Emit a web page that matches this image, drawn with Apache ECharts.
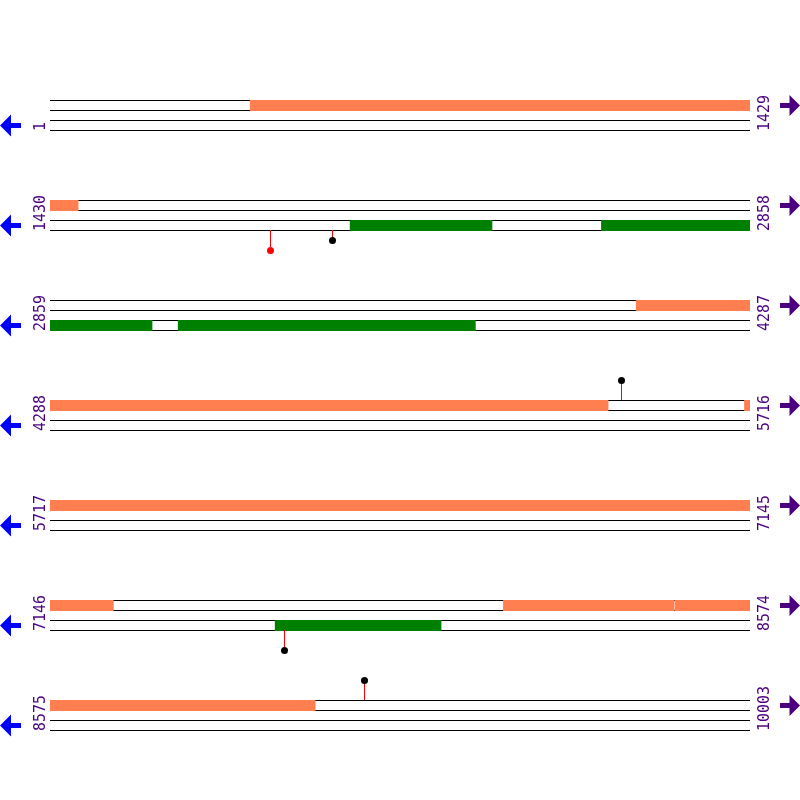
<!DOCTYPE html>
<html><head><meta charset="utf-8">
<script src="https://cdn.jsdelivr.net/npm/echarts@6/dist/echarts.min.js"></script>
<style>html,body{margin:0;padding:0;background:#fff}#c{width:800px;height:800px}</style>
</head><body><div id="c"></div>
<script>
// ---- data ----
const rowLength = 1429;
const rowStarts = [1, 1430, 2859, 4288, 5717, 7146, 8575];
const rowEnds = [1429, 2858, 4287, 5716, 7145, 8574, 10003];
// features on track 1 (orange) and track 2 (green), genome coordinates
const forwardFeatures = [[409, 1487], [4055, 5427], [5705, 7275], [8071, 8420], [8422, 9116]];
const reverseFeatures = [[2042, 2332], [2555, 3067], [3120, 3727], [7605, 7944]];
// lollipop markers
const markerPositions = [1879, 2006, 5454, 7624, 9216];
const markerSides = ['below', 'below', 'above', 'below', 'above'];
const markerLevels = [2, 1, 2, 2, 2];
const markerColors = ['#ff0000', '#000000', '#000000', '#000000', '#000000'];

// ---- build series data ----
function splitFeatures(list, track) {
  const out = [];
  list.forEach(([s, e]) => {
    rowStarts.forEach((rs, r) => {
      const a = Math.max(s, rs), b = Math.min(e, rowEnds[r]);
      if (a <= b) out.push([a - rs, b - rs + 1, r, track]);
    });
  });
  return out;
}
const segData = splitFeatures(forwardFeatures, 0).concat(splitFeatures(reverseFeatures, 1));
const rowData = rowStarts.map((s, i) => [i, s, rowEnds[i]]);
const markerData = markerPositions.map((p, i) => {
  let r = 0;
  rowStarts.forEach((rs, k) => { if (p >= rs) r = k; });
  return [p - rowStarts[r], r, markerSides[i] === 'above' ? -1 : 1, markerLevels[i], i];
});

const lineY = (r, k) => 10 + 10 * r + k; // y units (1 unit = 10px)

const chart = echarts.init(document.getElementById('c'), null, {renderer: 'canvas'});
chart.setOption({
  animation: false,
  backgroundColor: '#ffffff',
  grid: {left: 50, right: 50, top: 0, bottom: 0},
  xAxis: {type: 'value', min: 0, max: rowLength, show: false},
  yAxis: {type: 'value', min: 0, max: 80, inverse: true, show: false},
  series: [
    {
      type: 'custom', data: rowData, z: 1, clip: false,
      renderItem: (params, api) => {
        const r = api.value(0);
        const children = [];
        for (let k = 0; k < 4; k++) {
          const p0 = api.coord([0, lineY(r, k)]);
          const p1 = api.coord([rowLength, lineY(r, k)]);
          const y = Math.round(p0[1]) + 0.5;
          children.push({type: 'line', shape: {x1: p0[0], y1: y, x2: p1[0], y2: y}, style: {stroke: '#000', lineWidth: 1}});
        }
        const b = api.coord([0, lineY(r, 3)]);
        const e = api.coord([rowLength, lineY(r, 3)]);
        const t1 = api.coord([0, lineY(r, 0)]);
        const t2 = api.coord([0, lineY(r, 2)]);
        const yc1 = (t1[1] + api.coord([0, lineY(r, 1)])[1]) / 2 + 0.5;
        const yc2 = (t2[1] + b[1]) / 2 + 0.5;
        // start label
        children.push({type: 'text', x: b[0] - 9, y: b[1] + 1, rotation: Math.PI / 2,
          style: {text: String(api.value(1)), fill: '#4b0082', font: '15px "DejaVu Sans Mono"', align: 'left', verticalAlign: 'middle'}});
        children.push({type: 'text', x: e[0] + 15, y: b[1] + 1, rotation: Math.PI / 2,
          style: {text: String(api.value(2)), fill: '#4b0082', font: '15px "DejaVu Sans Mono"', align: 'left', verticalAlign: 'middle'}});
        // left (reverse) arrow
        const lx = b[0] - 50;
        children.push({type: 'polygon', shape: {points: [[lx, yc2], [lx + 11, yc2 - 11], [lx + 11, yc2 - 2.5], [lx + 21, yc2 - 2.5], [lx + 21, yc2 + 2.5], [lx + 11, yc2 + 2.5], [lx + 11, yc2 + 11]]},
          style: {fill: '#0000ff'}});
        // right (forward) arrow
        const rx = e[0] + 50;
        children.push({type: 'polygon', shape: {points: [[rx, yc1], [rx - 10.5, yc1 - 10.5], [rx - 10.5, yc1 - 2.5], [rx - 20, yc1 - 2.5], [rx - 20, yc1 + 2.5], [rx - 10.5, yc1 + 2.5], [rx - 10.5, yc1 + 10.5]]},
          style: {fill: '#4b0082'}});
        return {type: 'group', children};
      }
    },
    {
      type: 'custom', data: segData, z: 2, clip: false,
      renderItem: (params, api) => {
        const r = api.value(2), tr = api.value(3);
        const p0 = api.coord([api.value(0), lineY(r, tr * 2)]);
        const p1 = api.coord([api.value(1), lineY(r, tr * 2 + 1)]);
        return {type: 'rect', shape: {x: p0[0], y: Math.round(p0[1]), width: p1[0] - p0[0], height: Math.round(p1[1]) - Math.round(p0[1]) + 1},
          style: {fill: tr === 0 ? '#ff7f50' : '#008000'}};
      }
    },
    {
      type: 'custom', data: markerData, z: 3, clip: false,
      renderItem: (params, api) => {
        const r = api.value(1), dir = api.value(2), lvl = api.value(3), idx = api.value(4);
        const base = dir < 0 ? lineY(r, 0) : lineY(r, 3);
        const p0 = api.coord([api.value(0), base]);
        const p1 = api.coord([api.value(0), base + dir * lvl]);
        const x = Math.round(p0[0]) + 0.5;
        return {type: 'group', children: [
          {type: 'line', shape: {x1: x, y1: p0[1], x2: x, y2: p1[1]}, style: {stroke: '#ff0000', lineWidth: 1}},
          {type: 'circle', shape: {cx: x, cy: p1[1] + 0.5, r: 3.5}, style: {fill: markerColors[idx]}}
        ]};
      }
    }
  ]
});
</script>
</body></html>
